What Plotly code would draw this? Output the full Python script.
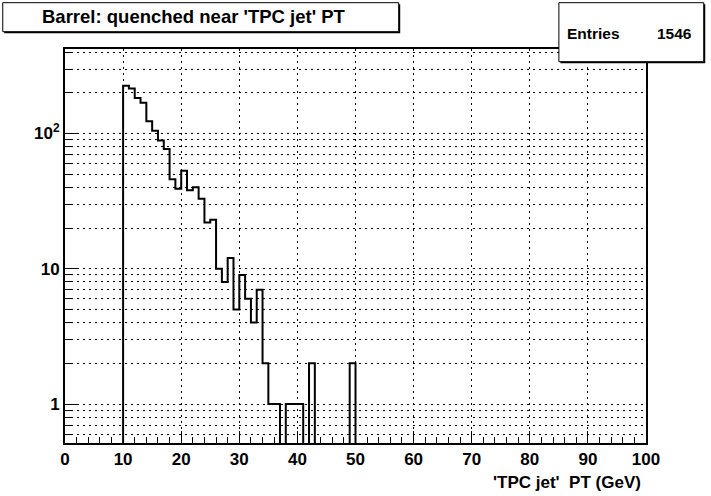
import numpy as np
import plotly.graph_objects as go

# histogram: 100 bins of 1 GeV between 0 and 100, entries only in bins 10..49
n_bins = 100
bin_width = 1.0
first_bin = 10
counts_filled = [226, 215, 183, 169, 123, 105, 89, 77, 46, 39,
                 53, 38, 40, 33, 22, 23, 10, 8, 12, 5,
                 9, 6, 4, 7, 2, 1, 1, 0, 1, 1,
                 1, 0, 2, 0, 0, 0, 0, 0, 0, 2]
entries = 1546

x_tick_vals = list(range(0, 101, 10))
y_tick_vals = [1, 10, 100]
y_tick_text = ["1", "10", "10<sup>2</sup>"]
y_minor_vals = [0.6, 0.7, 0.8, 0.9, 2, 3, 4, 5, 6, 7, 8, 9,
                20, 30, 40, 50, 60, 70, 80, 90, 200, 300, 400]

title_text = "Barrel: quenched near 'TPC jet' PT"
x_title = "'TPC jet'\u00a0\u00a0PT (GeV)"

W, H = 711, 496
ML, MR, MT, MB = 65, 64.5, 49, 53
y_range = [-0.288, 2.625]

counts = np.zeros(n_bins)
counts[first_bin:first_bin + len(counts_filled)] = counts_filled
edges = np.arange(n_bins + 1) * bin_width
# empty bins drop to below the frame, like ROOT does on a log scale
floor = 10 ** (y_range[0] - 1)
y_step = np.where(counts > 0, counts, floor)
y_step = np.append(y_step, y_step[-1])

font = "Liberation Sans, Arial, sans-serif"
dots = "2px,4px"


def px_x(p):
    return (p - ML) / (W - ML - MR)


def px_y(p):
    return (H - MB - p) / (H - MT - MB)


fig = go.Figure()
fig.add_trace(go.Scatter(x=edges, y=y_step, mode="lines", line_shape="hv",
                         line=dict(color="black", width=2), hoverinfo="skip"))

fig.update_xaxes(range=[0, 100], showline=True, linecolor="black", linewidth=2,
                 mirror=True, zeroline=False,
                 tickmode="array", tickvals=x_tick_vals, ticks="inside",
                 ticklen=12, tickcolor="black", tickwidth=1,
                 showgrid=True, gridcolor="black", gridwidth=1, griddash=dots,
                 minor=dict(dtick=2, ticks="inside", ticklen=6,
                            tickcolor="black", showgrid=False),
                 tickfont=dict(family=font, size=17, color="black", weight="bold"))
fig.update_yaxes(type="log", range=y_range, showline=True, linecolor="black",
                 linewidth=2, mirror=True, zeroline=False,
                 tickmode="array", tickvals=y_tick_vals, ticktext=y_tick_text,
                 ticks="inside", ticklen=12, tickcolor="black", tickwidth=1,
                 showgrid=True, gridcolor="black", gridwidth=1, griddash=dots,
                 minor=dict(tickmode="array", tickvals=y_minor_vals,
                            ticks="inside", ticklen=6, tickcolor="black",
                            showgrid=True, gridcolor="black", gridwidth=1,
                            griddash=dots),
                 tickfont=dict(family=font, size=17, color="black", weight="bold"))

# title pave and stats pave (with small shadows)
boxes = [(2.7, 2.7, 399, 31.7), (559.3, 2.7, 704.3, 61.7)]
for x0, y0, x1, y1 in boxes:
    fig.add_shape(type="rect", xref="paper", yref="paper",
                  x0=px_x(x0 + 1.5), x1=px_x(x1 + 1.5),
                  y0=px_y(y1 + 1.5), y1=px_y(y0 + 1.5),
                  fillcolor="black", line=dict(width=0), layer="above")
    fig.add_shape(type="rect", xref="paper", yref="paper",
                  x0=px_x(x0), x1=px_x(x1), y0=px_y(y1), y1=px_y(y0),
                  fillcolor="white", line=dict(color="black", width=1),
                  layer="above")

fig.add_annotation(text=title_text, xref="paper", yref="paper",
                   x=px_x(194), y=px_y(17), xanchor="center", yanchor="middle",
                   showarrow=False,
                   font=dict(family=font, size=18.5, color="black", weight="bold"))
fig.add_annotation(text="Entries", xref="paper", yref="paper",
                   x=px_x(565), y=px_y(33), xanchor="left", yanchor="middle",
                   showarrow=False,
                   font=dict(family=font, size=15.5, color="black", weight="bold"))
fig.add_annotation(text=str(entries), xref="paper", yref="paper",
                   x=px_x(695), y=px_y(33), xanchor="right", yanchor="middle",
                   showarrow=False,
                   font=dict(family=font, size=15.5, color="black", weight="bold"))
fig.add_annotation(text=x_title, xref="paper", yref="paper",
                   x=px_x(643), y=px_y(482), xanchor="right", yanchor="middle",
                   showarrow=False,
                   font=dict(family=font, size=17, color="black", weight="bold"))

fig.update_layout(width=W, height=H, showlegend=False,
                  margin=dict(l=ML, r=MR, t=MT, b=MB, pad=0),
                  paper_bgcolor="white", plot_bgcolor="white")

# the page's default body margin would shift the figure by 8px
fig.write_html("out.html", config={"displayModeBar": False},
               post_script="document.body.style.margin='0px';")
